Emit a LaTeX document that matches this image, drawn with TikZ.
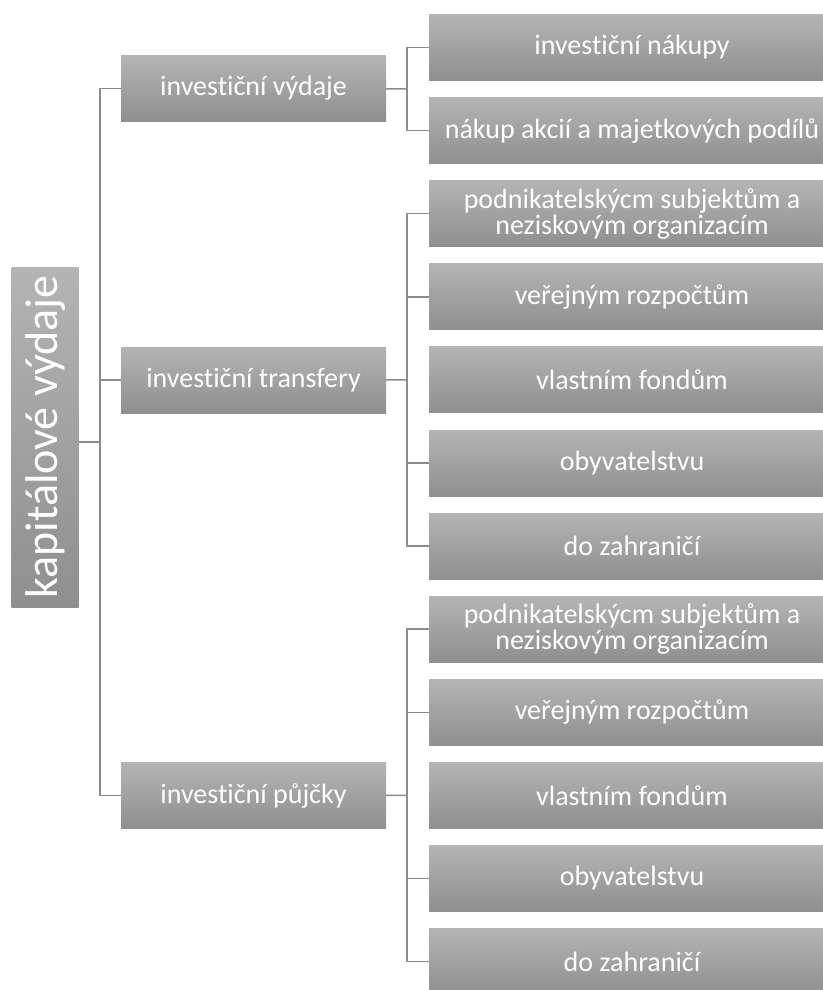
\documentclass[tikz,border=0pt]{standalone}
\usepackage{fontspec}
\setmainfont{Carlito}[Ligatures=NoCommon]

\definecolor{boxtop}{RGB}{180,180,180}
\definecolor{boxbottom}{RGB}{143,143,143}
\definecolor{linkgray}{RGB}{140,140,140}

\tikzset{
  box/.style={top color=boxtop, bottom color=boxbottom, text=white,
    inner sep=0pt, minimum height=66pt, align=center,
    font=\fontsize{28}{26}\selectfont},
  topbox/.style={box, minimum width=265pt},
  leafbox/.style={box, minimum width=406pt},
  link/.style={draw=linkgray, line width=1.5pt}
}

\begin{document}
\begin{tikzpicture}[x=1pt, y=-1pt]

                  \useasboundingbox (0,0) rectangle (822,990);

                  % Root box, text turned upright
                  \node[box, rotate=90, minimum width=340pt, minimum height=67pt,
                        font=\fontsize{46}{46}\selectfont] (root) at (45,437) {kapitálové výdaje};

                  % First level
                  \node[topbox] (vydaje) at (253.5,88.5) {investiční výdaje};
                  \node[topbox] (transfery) at (253.5,380) {investiční transfery};
                  \node[topbox] (pujcky) at (253.5,795.5) {investiční půjčky};

                  % Second level under investiční výdaje (boxes run off the right edge)
                  \node[leafbox] (nakupy) at (632,47.5) {investiční nákupy};
                  \node[leafbox] (akcie) at (632,130.6) {nákup akcií a majetkových podílů};

                  % Second level under investiční transfery
                  \node[leafbox] (tpodnik) at (632,213.7) {podnikatelskýcm subjektům a\\neziskovým organizacím};
                  \node[leafbox] (trozpocty) at (632,296.8) {veřejným rozpočtům};
                  \node[leafbox] (tfondy) at (632,379.9) {vlastním fondům};
                  \node[leafbox] (tobyv) at (632,463) {obyvatelstvu};
                  \node[leafbox] (tzahr) at (632,546.1) {do zahraničí};

                  % Second level under investiční půjčky
                  \node[leafbox] (ppodnik) at (632,629.2) {podnikatelskýcm subjektům a\\neziskovým organizacím};
                  \node[leafbox] (prozpocty) at (632,712.3) {veřejným rozpočtům};
                  \node[leafbox] (pfondy) at (632,795.4) {vlastním fondům};
                  \node[leafbox] (pobyv) at (632,878.5) {obyvatelstvu};
                  \node[leafbox] (pzahr) at (632,961.6) {do zahraničí};

                  % Bus lines
                  \coordinate (bus) at (100,442);
                  \coordinate (vbus) at (407,89);
                  \coordinate (tbus) at (407,379.9);
                  \coordinate (pbus) at (407,795.4);

                  % Root to first level
                  \draw[link] (root.south |- bus) -- (bus);
                  \draw[link] (vydaje) -| (bus) |- (pujcky);
                  \draw[link] (bus |- transfery) -- (transfery);

                  % investiční výdaje to its items
                  \draw[link] (vydaje) -- (vbus);
                  \draw[link] (nakupy) -| (vbus) |- (akcie);

                  % investiční transfery to its items
                  \draw[link] (transfery) -- (tbus);
                  \draw[link] (tpodnik) -| (tbus) |- (tzahr);
                  \draw[link] (tbus |- trozpocty) -- (trozpocty);
                  \draw[link] (tbus |- tobyv) -- (tobyv);

                  % investiční půjčky to its items
                  \draw[link] (pujcky) -- (pbus);
                  \draw[link] (ppodnik) -| (pbus) |- (pzahr);
                  \draw[link] (pbus |- prozpocty) -- (prozpocty);
                  \draw[link] (pbus |- pobyv) -- (pobyv);

\end{tikzpicture}
\end{document}
